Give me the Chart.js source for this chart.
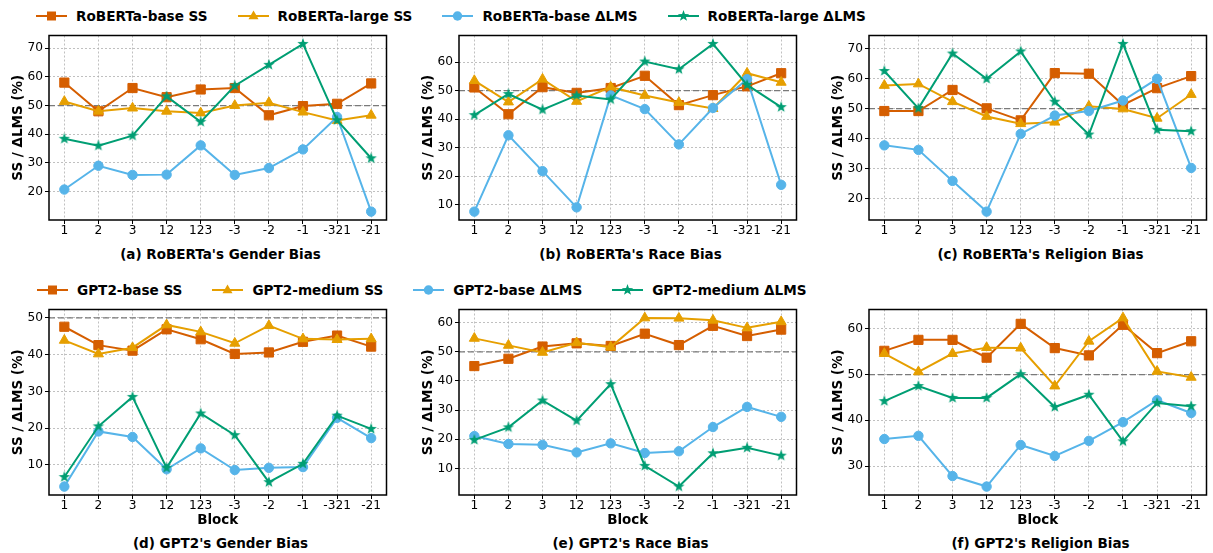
<!DOCTYPE html>
<html>
<head>
<meta charset="utf-8">
<script src="https://cdn.jsdelivr.net/npm/chart.js@4.4.0/dist/chart.umd.min.js"></script>
<style>
  body { margin: 0; width: 1213px; height: 553px; background: #fff; position: relative; overflow: hidden; font-family: "DejaVu Sans", sans-serif; color: #000; }
  canvas { position: absolute; }
  .caption { position: absolute; width: 343px; text-align: center; font-weight: bold; font-size: 13.5px; line-height: 16px; white-space: nowrap; }
  .legend { position: absolute; display: flex; align-items: center; gap: 30px; font-weight: bold; font-size: 13.6px; line-height: 16px; white-space: nowrap; }
  .legend .item { display: flex; align-items: center; gap: 9px; }
  .legend svg { display: block; }
</style>
</head>
<body>
<script>
const blocks = ['1', '2', '3', '12', '123', '-3', '-2', '-1', '-321', '-21'];
const refValue = 50;

const robertaNames = ['RoBERTa-base SS', 'RoBERTa-large SS', 'RoBERTa-base ΔLMS', 'RoBERTa-large ΔLMS'];
const gpt2Names = ['GPT2-base SS', 'GPT2-medium SS', 'GPT2-base ΔLMS', 'GPT2-medium ΔLMS'];

// (a) RoBERTa gender
const robGenderBaseSS   = [58.0, 48.0, 56.1, 52.9, 55.6, 56.1, 46.6, 49.8, 50.6, 57.7];
const robGenderLargeSS  = [51.4, 48.0, 49.1, 48.0, 47.4, 50.0, 51.0, 47.7, 44.8, 46.6];
const robGenderBaseLMS  = [20.7, 29.0, 25.8, 25.9, 36.1, 25.8, 28.2, 34.7, 46.0, 13.0];
const robGenderLargeLMS = [38.4, 36.0, 39.5, 53.2, 44.3, 56.9, 64.2, 71.5, 44.9, 31.6];
// (b) RoBERTa race
const robRaceBaseSS   = [51.1, 41.7, 51.2, 49.2, 50.9, 55.2, 44.9, 48.4, 51.5, 56.1];
const robRaceLargeSS  = [53.5, 46.0, 54.0, 46.2, 51.2, 48.3, 45.8, 43.7, 56.1, 52.9];
const robRaceBaseLMS  = [7.5, 34.3, 21.7, 9.0, 48.3, 43.5, 31.1, 43.9, 54.0, 16.9];
const robRaceLargeLMS = [41.4, 48.8, 43.3, 48.3, 46.9, 60.2, 57.5, 66.4, 52.0, 44.2];
// (c) RoBERTa religion
const robReligionBaseSS   = [49.2, 49.2, 56.2, 50.1, 46.1, 61.8, 61.6, 51.2, 56.8, 60.8];
const robReligionLargeSS  = [57.7, 58.2, 52.3, 47.4, 45.0, 45.5, 50.8, 49.9, 46.8, 54.7];
const robReligionBaseLMS  = [37.8, 36.3, 26.0, 15.8, 41.6, 47.7, 49.2, 52.7, 59.9, 30.3];
const robReligionLargeLMS = [62.5, 50.1, 68.3, 59.9, 69.0, 52.3, 41.4, 71.5, 43.0, 42.5];
// (d) GPT2 gender
const gptGenderBaseSS    = [47.6, 42.6, 41.1, 46.9, 44.2, 40.2, 40.6, 43.5, 45.2, 42.2];
const gptGenderMediumSS  = [43.9, 40.2, 41.9, 48.1, 46.2, 43.1, 47.9, 44.3, 44.1, 44.3];
const gptGenderBaseLMS   = [4.1, 19.1, 17.6, 8.8, 14.5, 8.6, 9.2, 9.4, 22.8, 17.3];
const gptGenderMediumLMS = [6.7, 20.5, 28.5, 9.2, 24.0, 18.1, 5.3, 10.3, 23.4, 19.8];
// (e) GPT2 race
const gptRaceBaseSS    = [45.1, 47.6, 51.8, 52.9, 52.0, 56.2, 52.3, 58.9, 55.4, 57.6];
const gptRaceMediumSS  = [54.6, 52.2, 49.8, 53.1, 51.6, 61.6, 61.5, 60.8, 58.2, 60.3];
const gptRaceBaseLMS   = [21.1, 18.4, 18.1, 15.5, 18.6, 15.3, 15.9, 24.2, 31.1, 27.7];
const gptRaceMediumLMS = [19.8, 24.1, 33.3, 26.4, 38.9, 10.9, 3.8, 15.2, 17.1, 14.4];
// (f) GPT2 religion
const gptReligionBaseSS    = [55.2, 57.6, 57.6, 53.7, 61.1, 55.8, 54.2, 60.9, 54.7, 57.3];
const gptReligionMediumSS  = [54.6, 50.6, 54.6, 55.9, 55.8, 47.5, 57.3, 62.4, 50.7, 49.4];
const gptReligionBaseLMS   = [35.9, 36.6, 27.8, 25.5, 34.6, 32.2, 35.5, 39.6, 44.4, 41.6];
const gptReligionMediumLMS = [44.2, 47.5, 44.9, 44.9, 50.1, 42.9, 45.6, 35.4, 43.8, 43.1];

const seriesColors = ['#D55E00', '#E69F00', '#56B4E9', '#009E73'];
const font = 'DejaVu Sans';
Chart.defaults.font.family = font;

// filled five point star, like matplotlib's '*'
function starPoints(cx, cy, R) {
  const pts = [];
  for (let i = 0; i < 10; i++) {
    const r = i % 2 ? R * 0.4 : R;
    const a = -Math.PI / 2 + i * Math.PI / 5;
    pts.push([cx + r * Math.cos(a), cy + r * Math.sin(a)]);
  }
  return pts;
}
function makeStar(color, R) {
  const c = document.createElement('canvas');
  const size = Math.ceil(R * 2 + 2);
  c.width = size; c.height = size;
  const ctx = c.getContext('2d');
  ctx.fillStyle = color;
  ctx.beginPath();
  starPoints(size / 2, size / 2, R).forEach(([x, y], i) => i ? ctx.lineTo(x, y) : ctx.moveTo(x, y));
  ctx.closePath();
  ctx.fill();
  return c;
}

const markerStyles = ['rect', 'triangle', 'circle', makeStar(seriesColors[3], 6)];
const markerRadius = [6.5, 5.8, 4.7, 5];

const panels = [
  { title: "(a) RoBERTa's Gender Bias", names: robertaNames, series: [robGenderBaseSS, robGenderLargeSS, robGenderBaseLMS, robGenderLargeLMS], col: 0, row: 0 },
  { title: "(b) RoBERTa's Race Bias", names: robertaNames, series: [robRaceBaseSS, robRaceLargeSS, robRaceBaseLMS, robRaceLargeLMS], col: 1, row: 0 },
  { title: "(c) RoBERTa's Religion Bias", names: robertaNames, series: [robReligionBaseSS, robReligionLargeSS, robReligionBaseLMS, robReligionLargeLMS], col: 2, row: 0 },
  { title: "(d) GPT2's Gender Bias", names: gpt2Names, series: [gptGenderBaseSS, gptGenderMediumSS, gptGenderBaseLMS, gptGenderMediumLMS], col: 0, row: 1 },
  { title: "(e) GPT2's Race Bias", names: gpt2Names, series: [gptRaceBaseSS, gptRaceMediumSS, gptRaceBaseLMS, gptRaceMediumLMS], col: 1, row: 1 },
  { title: "(f) GPT2's Religion Bias", names: gpt2Names, series: [gptReligionBaseSS, gptReligionMediumSS, gptReligionBaseLMS, gptReligionMediumLMS], col: 2, row: 1 },
];

// layout of the grid (plot area boxes)
const plotLefts = [49, 459, 869];
const plotTops = [33, 307];
const plotHeights = [187, 188];
const plotWidth = 343;
const yAxisWidth = 49;
const xAxisHeights = [22, 36];
const captionTops = [246, 535];
const padTop = 5, padRight = 2;

const framePlugin = {
  id: 'frame',
  beforeDatasetsDraw(chart) {
    const {ctx, chartArea: a, scales: {y}} = chart;
    const py = y.getPixelForValue(refValue);
    ctx.save();
    ctx.strokeStyle = '#7a7a7a';
    ctx.lineWidth = 1.3;
    ctx.setLineDash([6, 3]);
    ctx.beginPath();
    ctx.moveTo(a.left, py);
    ctx.lineTo(a.right, py);
    ctx.stroke();
    ctx.restore();
  },
  afterDatasetsDraw(chart) {
    const {ctx, chartArea: a} = chart;
    ctx.save();
    ctx.strokeStyle = '#000';
    ctx.lineWidth = 1.5;
    ctx.strokeRect(a.left, a.top, a.right - a.left, a.bottom - a.top);
    ctx.restore();
  }
};

function makePanel(p) {
  const canvas = document.createElement('canvas');
  const w = yAxisWidth + plotWidth + padRight;
  const h = padTop + plotHeights[p.row] + xAxisHeights[p.row];
  canvas.width = w; canvas.height = h;
  canvas.style.width = w + 'px'; canvas.style.height = h + 'px';
  canvas.style.left = (plotLefts[p.col] - yAxisWidth) + 'px';
  canvas.style.top = (plotTops[p.row] - padTop) + 'px';
  document.body.appendChild(canvas);

  const all = p.series.flat().concat([refValue]);
  const lo = Math.min(...all), hi = Math.max(...all);
  const pad = (hi - lo) * 0.05;

  const gridOpts = { color: '#b0b0b0', lineWidth: 0.8, tickColor: '#000', tickLength: 4, tickWidth: 1, tickBorderDash: [] };
  const tickFont = { family: font, size: 12.2 };
  const titleFont = { family: font, size: 13.5, weight: 'bold' };

  new Chart(canvas, {
    type: 'line',
    data: {
      datasets: p.series.map((s, k) => ({
        label: p.names[k],
        data: s.map((v, i) => ({ x: i, y: v })),
        borderColor: seriesColors[k],
        backgroundColor: seriesColors[k],
        borderWidth: 2,
        pointStyle: markerStyles[k],
        pointRadius: markerRadius[k],
        pointBorderWidth: 1,
        pointBorderColor: seriesColors[k],
        order: 3 - k
      }))
    },
    options: {
      responsive: false,
      animation: false,
      events: [],
      layout: { padding: { top: padTop, right: padRight, left: 0, bottom: 0 } },
      plugins: { legend: { display: false }, tooltip: { enabled: false } },
      scales: {
        x: {
          type: 'linear',
          min: -0.45,
          max: blocks.length - 1 + 0.45,
          afterBuildTicks: s => { s.ticks = blocks.map((_, i) => ({ value: i })); },
          afterFit: s => { s.height = xAxisHeights[p.row]; s.paddingLeft = 0; s.paddingRight = 0; },
          ticks: { callback: v => blocks[Math.round(v)], autoSkip: false, maxRotation: 0, padding: 0, color: '#000', font: tickFont },
          grid: gridOpts,
          border: { display: false, dash: [2, 2] },
          title: p.row === 1
            ? { display: true, text: 'Block', color: '#000', font: titleFont, padding: { top: 0, bottom: 2 } }
            : { display: false }
        },
        y: {
          min: lo - pad,
          max: hi + pad,
          afterBuildTicks: s => {
            const t = [];
            for (let v = Math.ceil(s.min / 10) * 10; v <= s.max; v += 10) t.push({ value: v });
            s.ticks = t;
          },
          afterFit: s => { s.width = yAxisWidth; s.paddingTop = 0; s.paddingBottom = 0; },
          ticks: { padding: 2, color: '#000', font: tickFont },
          grid: gridOpts,
          border: { display: false, dash: [2, 2] },
          title: { display: true, text: 'SS / ΔLMS (%)', color: '#000', font: titleFont, padding: { top: 10, bottom: 0 } }
        }
      }
    },
    plugins: [framePlugin]
  });

  const cap = document.createElement('div');
  cap.className = 'caption';
  cap.textContent = p.title;
  cap.style.left = plotLefts[p.col] + 'px';
  cap.style.top = captionTops[p.row] + 'px';
  document.body.appendChild(cap);
}

function legendIcon(k) {
  const c = seriesColors[k];
  let m;
  if (k === 0) m = `<rect x="11" y="2.5" width="9" height="9" fill="${c}"/>`;
  else if (k === 1) m = `<polygon points="15.5,1.5 20.5,10.2 10.5,10.2" fill="${c}"/>`;
  else if (k === 2) m = `<circle cx="15.5" cy="7" r="4.7" fill="${c}"/>`;
  else m = `<polygon points="${starPoints(15.5, 7, 6).map(q => q.join(',')).join(' ')}" fill="${c}"/>`;
  return `<svg width="31" height="14"><line x1="0" y1="7" x2="31" y2="7" stroke="${c}" stroke-width="2"/>${m}</svg>`;
}

function makeLegend(names, left, top) {
  const el = document.createElement('div');
  el.className = 'legend';
  el.style.left = left + 'px';
  el.style.top = top + 'px';
  el.innerHTML = names.map((n, k) => `<div class="item">${legendIcon(k)}<span>${n}</span></div>`).join('');
  document.body.appendChild(el);
}

makeLegend(robertaNames, 36, 8);
makeLegend(gpt2Names, 37, 282);
panels.forEach(makePanel);
</script>
</body>
</html>
